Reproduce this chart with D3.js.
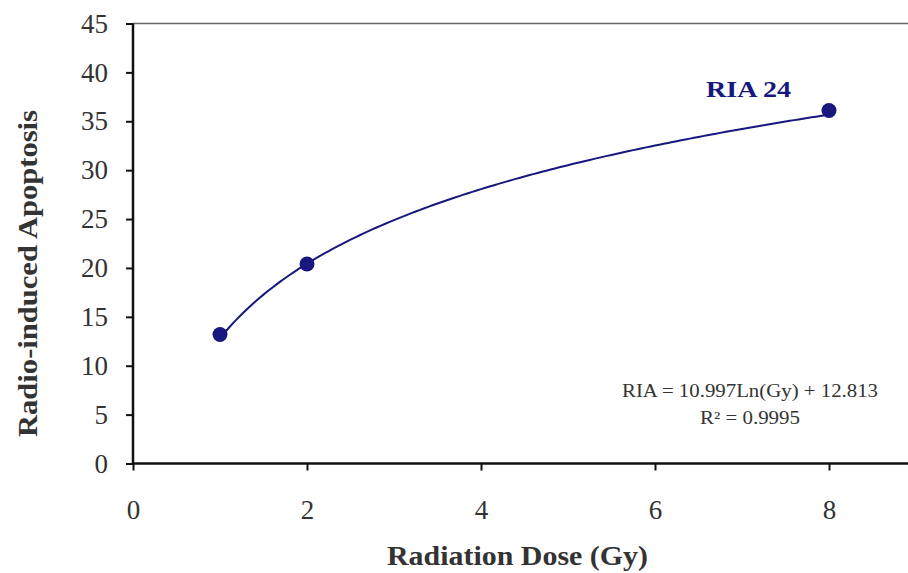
<!DOCTYPE html>
<html><head><meta charset="utf-8">
<script src="https://cdn.jsdelivr.net/npm/d3@7"></script>
<style>body{margin:0;background:#fff}</style>
</head><body>
<svg id="c" width="908" height="573"></svg>
<script>
const doses = [1, 2, 8];
const apoptosis = [13.2, 20.4, 36.1];
const xTicks = [0, 2, 4, 6, 8];
const yTicks = [0, 5, 10, 15, 20, 25, 30, 35, 40, 45];
const fitA = 10.997, fitB = 12.813;
const seriesLabel = "RIA 24";
const eqText = "RIA = 10.997Ln(Gy) + 12.813";
const r2Text = "R² = 0.9995";
const xTitle = "Radiation Dose (Gy)";
const yTitle = "Radio-induced Apoptosis";

const svg = d3.select("#c");
const x = d3.scaleLinear().domain([0, 8.9]).range([133, 907.3]);
const y = d3.scaleLinear().domain([0, 45]).range([463.5, 23.5]);
const navy = "#17177e";
const serif = "'Liberation Serif', 'Times New Roman', serif";

// top border
svg.append("line").attr("x1", 133).attr("x2", 908).attr("y1", y(45)).attr("y2", y(45))
  .attr("stroke", "#666").attr("stroke-width", 1.5);

const yAxis = svg.append("g").attr("transform", "translate(133,0)")
  .call(d3.axisLeft(y).tickValues(yTicks).tickSize(7).tickPadding(18).tickFormat(d3.format("d")));
const xAxis = svg.append("g").attr("transform", `translate(0,${y(0)})`)
  .call(d3.axisBottom(x).tickValues(xTicks).tickSize(7).tickPadding(29).tickFormat(d3.format("d")));
[yAxis, xAxis].forEach(g => {
  g.select(".domain").attr("stroke", "#111").attr("stroke-width", 2.5);
  g.selectAll(".tick line").attr("stroke", "#111").attr("stroke-width", 2);
  g.selectAll("text").attr("font-family", serif).attr("font-size", 27).attr("fill", "#333");
});
yAxis.select(".domain").attr("d", `M0,${y(45)}V${y(0)}`);
xAxis.select(".domain").attr("d", `M${x(0)},0H908`);

// trendline
const fitX = d3.range(1, 8.0001, 0.05);
svg.append("path").datum(fitX)
  .attr("d", d3.line().x(d => x(d)).y(d => y(fitA * Math.log(d) + fitB)))
  .attr("fill", "none").attr("stroke", navy).attr("stroke-width", 2);

svg.selectAll("circle.pt").data(doses).join("circle").attr("class", "pt")
  .attr("cx", d => x(d)).attr("cy", (d, i) => y(apoptosis[i])).attr("r", 7.5)
  .attr("fill", navy);

svg.append("text").attr("x", 706).attr("y", 97)
  .attr("font-family", serif).attr("font-weight", "bold")
  .attr("font-size", 23).attr("fill", navy)
  .attr("textLength", 85).attr("lengthAdjust", "spacingAndGlyphs").text(seriesLabel);

svg.append("text").attr("x", 622).attr("y", 397)
  .attr("font-family", serif).attr("font-size", 18).attr("fill", "#333")
  .attr("textLength", 256).attr("lengthAdjust", "spacingAndGlyphs").text(eqText);
svg.append("text").attr("x", 700).attr("y", 424)
  .attr("font-family", serif).attr("font-size", 18).attr("fill", "#333")
  .attr("textLength", 100).attr("lengthAdjust", "spacingAndGlyphs").text(r2Text);

svg.append("text").attr("x", 387).attr("y", 565)
  .attr("font-family", serif).attr("font-weight", "bold")
  .attr("font-size", 28).attr("fill", "#333")
  .attr("textLength", 261).attr("lengthAdjust", "spacingAndGlyphs").text(xTitle);
svg.append("text").attr("transform", "translate(37,437) rotate(-90)")
  .attr("font-family", serif).attr("font-weight", "bold")
  .attr("font-size", 28).attr("fill", "#333")
  .attr("textLength", 327).attr("lengthAdjust", "spacingAndGlyphs").text(yTitle);
</script>
</body></html>
